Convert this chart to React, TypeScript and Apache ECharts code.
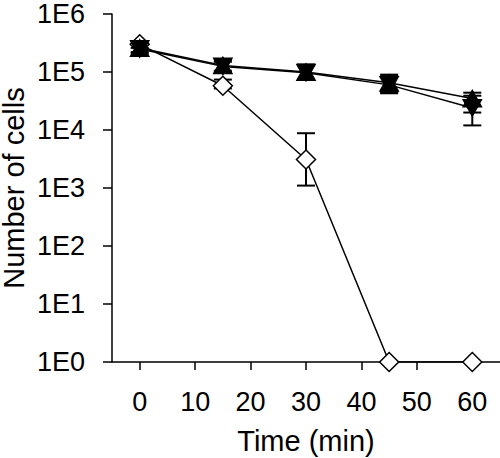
import React, { useEffect, useRef } from "react";
import * as echarts from "echarts";

const times = [0, 15, 30, 45, 60];
const xTickValues = [0, 10, 20, 30, 40, 50, 60];
const yTickLabels = ["1E0", "1E1", "1E2", "1E3", "1E4", "1E5", "1E6"];

const upValues = [2.6e5, 1.3e5, 1.0e5, 6.5e4, 3.5e4];
const upLow = [2.2e5, 1.05e5, 7.5e4, 4.5e4, 2.0e4];
const upHigh = [3.4e5, 1.6e5, 1.35e5, 9.0e4, 4.4e4];

const downValues = [2.5e5, 1.25e5, 0.97e5, 6.0e4, 2.4e4];
const downLow = [2.1e5, 1.0e5, 7.4e4, 4.3e4, 1.2e4];
const downHigh = [3.0e5, 1.5e5, 1.3e5, 8.5e4, 3.9e4];

const openValues = [3.0e5, 5.8e4, 3.1e3, 1, 1];
const openLow = [2.6e5, 5.2e4, 1.1e3, null, null];
const openHigh = [3.4e5, 7.4e4, 8.8e3, null, null];

const FONT = "'Liberation Sans', Arial, sans-serif";

function errData(low: (number | null)[], high: (number | null)[]) {
  const out: number[][] = [];
  times.forEach((t, i) => {
    if (low[i] != null && high[i] != null) out.push([t, low[i] as number, high[i] as number]);
  });
  return out;
}

function errSeries(data: number[][]) {
  return {
    type: "custom",
    data,
    z: 1,
    silent: true,
    renderItem: (params: any, api: any) => {
      const x = api.value(0);
      const lo = api.coord([x, api.value(1)]);
      const hi = api.coord([x, api.value(2)]);
      const w = 9;
      const style = { stroke: "#000", lineWidth: 2 };
      return {
        type: "group",
        children: [
          { type: "line", shape: { x1: lo[0], y1: lo[1], x2: hi[0], y2: hi[1] }, style },
          { type: "line", shape: { x1: lo[0] - w, y1: lo[1], x2: lo[0] + w, y2: lo[1] }, style },
          { type: "line", shape: { x1: hi[0] - w, y1: hi[1], x2: hi[0] + w, y2: hi[1] }, style },
        ],
      };
    },
  };
}

export default function App() {
  const ref = useRef<HTMLDivElement>(null);
  useEffect(() => {
    document.body.style.margin = "0";
    const chart = echarts.init(ref.current!, null, { renderer: "svg" });
    const pairs = (vals: number[]) => times.map((t, i) => [t, vals[i]]);
    chart.setOption({
      animation: false,
      grid: { left: 112, top: 14, right: 0, bottom: 96, containLabel: false, outerBoundsMode: "none" },
      xAxis: {
        type: "value",
        min: -5,
        max: 65,
        name: "Time (min)",
        nameLocation: "middle",
        nameGap: 64,
        nameMoveOverlap: false,
        nameTextStyle: { color: "#000", fontSize: 29, fontFamily: FONT },
        splitLine: { show: false },
        axisLine: { show: true, onZero: false, lineStyle: { color: "#000", width: 1.5 } },
        axisTick: { show: true, length: 8, customValues: xTickValues, lineStyle: { color: "#000", width: 1.5 } },
        axisLabel: { customValues: xTickValues, color: "#000", fontSize: 27, fontFamily: FONT, margin: 26 },
      },
      yAxis: {
        type: "log",
        logBase: 10,
        min: 1,
        max: 1e6,
        name: "Number of cells",
        nameLocation: "middle",
        nameGap: 84,
        nameMoveOverlap: false,
        nameTextStyle: { color: "#000", fontSize: 29, fontFamily: FONT },
        splitLine: { show: false },
        axisLine: { show: true, onZero: false, lineStyle: { color: "#000", width: 1.5 } },
        axisTick: { show: true, length: 9, lineStyle: { color: "#000", width: 1.5 } },
        axisLabel: {
          color: "#000",
          fontSize: 27,
          lineHeight: 22,
          fontFamily: FONT,
          margin: 27,
          formatter: (v: number) => yTickLabels[Math.round(Math.log10(v))] ?? "",
        },
      },
      series: [
        errSeries(errData(openLow, openHigh)),
        errSeries(errData(upLow, upHigh)),
        errSeries(errData(downLow, downHigh)),
        {
          type: "line",
          data: pairs(openValues),
          symbol: "diamond",
          symbolSize: [19, 19],
          z: 2,
          lineStyle: { color: "#000", width: 1.5 },
          itemStyle: { color: "#fff", borderColor: "#000", borderWidth: 1.5 },
        },
        {
          type: "line",
          data: pairs(upValues),
          symbol: "triangle",
          symbolSize: [19, 17],
          z: 3,
          lineStyle: { color: "#000", width: 1.5 },
          itemStyle: { color: "#000", borderColor: "#000", borderWidth: 1 },
        },
        {
          type: "line",
          data: pairs(downValues),
          symbol: "triangle",
          symbolRotate: 180,
          symbolSize: [19, 17],
          z: 3,
          lineStyle: { color: "#000", width: 1.5 },
          itemStyle: { color: "#000", borderColor: "#000", borderWidth: 1 },
        },
      ],
    });
    return () => chart.dispose();
  }, []);
  return <div ref={ref} style={{ width: 500, height: 458 }} />;
}
